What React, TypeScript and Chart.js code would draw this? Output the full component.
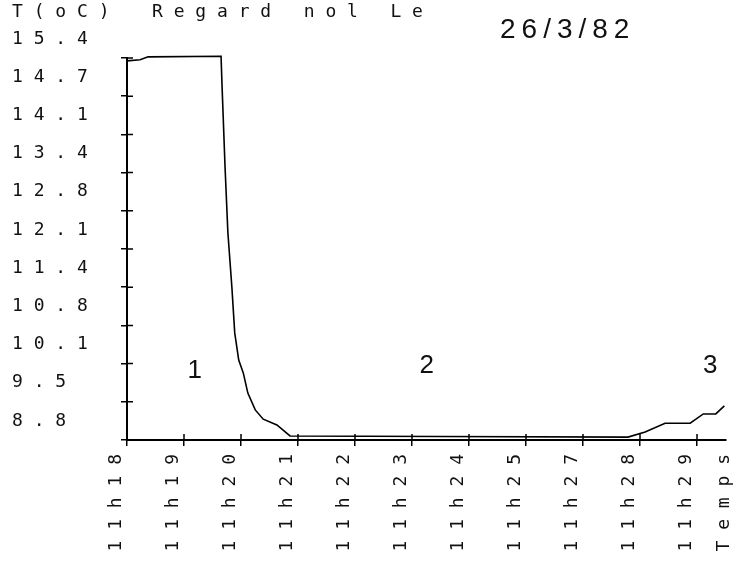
import React, { useEffect, useRef } from 'react';
import { Chart, registerables } from 'chart.js';

Chart.register(...registerables);

// ---- data ----
// x in "tick units": 0 = 11h18 tick, 10 = 11h29 tick
const timeX = [0, 0.23, 0.37, 1.65, 1.67, 1.72, 1.77, 1.84, 1.89, 1.96, 2.04, 2.12, 2.25, 2.39, 2.63, 2.86, 5.5, 8.79, 9.09, 9.26, 9.44, 9.88, 10.11, 10.33, 10.48];
const tempY = [15.35, 15.37, 15.42, 15.43, 14.85, 13.52, 12.38, 11.44, 10.65, 10.18, 9.96, 9.61, 9.32, 9.16, 9.06, 8.87, 8.86, 8.85, 8.94, 9.01, 9.09, 9.09, 9.25, 9.25, 9.39];

const xTickValues = [0, 1, 2, 3, 4, 5, 6, 7, 8, 9, 10];
const xTickLabels = ['11h18', '11h19', '11h20', '11h21', '11h22', '11h23', '11h24', '11h25', '11h27', '11h28', '11h29'];

const yTickValues = [8.8, 9.46, 10.12, 10.78, 11.44, 12.1, 12.76, 13.42, 14.08, 14.74, 15.4];
const yTickLabels = ['8.8', '9.5', '10.1', '10.8', '11.4', '12.1', '12.8', '13.4', '14.1', '14.7', '15.4'];

const phaseLabels = ['1', '2', '3'];
const phaseX = [1.19, 5.26, 10.23];
const phaseY = [9.99, 10.08, 10.08];

const yAxisTitle = 'T(oC)';
const chartTitle = 'Regard nol Le';
const chartDate = '26/3/82';
const xAxisTitle = 'Temps';

const MONO = '"DejaVu Sans Mono", "Liberation Mono", monospace';
const SANS = '"Liberation Sans", Arial, sans-serif';
const spaced = (s: string) => s.split('').join(' ');

const overlayPlugin = {
  id: 'overlay',
  afterDraw(chart: any) {
    const { ctx, chartArea, scales } = chart;
    const xs = scales.x;
    const ys = scales.y;
    ctx.save();
    // inner halves of the "+" tick marks
    ctx.strokeStyle = '#000';
    ctx.lineWidth = 1.5;
    ctx.beginPath();
    xs.ticks.forEach((_: any, i: number) => {
      const px = xs.getPixelForTick(i);
      ctx.moveTo(px, chartArea.bottom);
      ctx.lineTo(px, chartArea.bottom - 6);
    });
    ys.ticks.forEach((_: any, i: number) => {
      const py = ys.getPixelForTick(i);
      ctx.moveTo(chartArea.left, py);
      ctx.lineTo(chartArea.left + 6, py);
    });
    ctx.stroke();

    ctx.fillStyle = '#111';
    // header
    ctx.font = `18px ${MONO}`;
    ctx.textAlign = 'left';
    ctx.textBaseline = 'alphabetic';
    ctx.fillText(spaced(yAxisTitle), 12, 17);
    ctx.fillText(chartTitle.split(' ').map(spaced).join('   '), 152, 17);
    ctx.font = `28px ${SANS}`;
    try { (ctx as any).letterSpacing = '6px'; } catch (e) {}
    ctx.fillText(chartDate, 500, 38);
    try { (ctx as any).letterSpacing = '0px'; } catch (e) {}

    // phase annotations, placed through the scales
    ctx.font = `26px ${SANS}`;
    ctx.textAlign = 'center';
    ctx.textBaseline = 'middle';
    phaseLabels.forEach((t, i) => {
      ctx.fillText(t, xs.getPixelForValue(phaseX[i]), ys.getPixelForValue(phaseY[i]));
    });

    // x-axis title at the right end, rotated like the tick labels
    ctx.font = `18px ${MONO}`;
    ctx.translate(chartArea.right - 1, chartArea.bottom + 14);
    ctx.rotate(-Math.PI / 2);
    ctx.textAlign = 'right';
    ctx.textBaseline = 'middle';
    ctx.fillText(spaced(xAxisTitle), 0, 0);
    ctx.restore();
  },
};

export default function App() {
  const canvasRef = useRef<HTMLCanvasElement | null>(null);

  useEffect(() => {
    if (!canvasRef.current) return;
    const chart = new Chart(canvasRef.current, {
      type: 'line',
      data: {
        datasets: [
          {
            data: timeX.map((x, i) => ({ x, y: tempY[i] })),
            borderColor: '#000',
            borderWidth: 1.6,
            pointRadius: 0,
            tension: 0,
            fill: false,
            clip: false,
          },
        ],
      },
      options: {
        animation: false,
        responsive: true,
        maintainAspectRatio: false,
        layout: { padding: { left: 12, top: 58, right: 13.5, bottom: 0 } },
        plugins: { legend: { display: false }, tooltip: { enabled: false }, title: { display: false } },
        scales: {
          x: {
            type: 'linear',
            min: 0,
            max: 10.5,
            afterBuildTicks: (scale: any) => {
              scale.ticks = xTickValues.map((v) => ({ value: v }));
            },
            afterFit: (scale: any) => {
              scale.height = 126;
            },
            grid: { drawOnChartArea: false, drawTicks: true, tickLength: 6, color: '#000', lineWidth: 1.5 },
            border: { display: true, color: '#000', width: 2 },
            ticks: {
              autoSkip: false,
              minRotation: 90,
              maxRotation: 90,
              padding: 8,
              labelOffset: -11,
              color: '#111',
              font: { family: MONO, size: 18 },
              callback: (_v: any, i: number) => spaced(xTickLabels[i] ?? ''),
            },
          },
          y: {
            type: 'linear',
            min: 8.8,
            max: 15.4,
            afterBuildTicks: (scale: any) => {
              scale.ticks = yTickValues.map((v) => ({ value: v }));
            },
            afterFit: (scale: any) => {
              scale.width = 115;
            },
            grid: { drawOnChartArea: false, drawTicks: true, tickLength: 6, color: '#000', lineWidth: 1.5 },
            border: { display: true, color: '#000', width: 2 },
            ticks: {
              autoSkip: false,
              crossAlign: 'far',
              labelOffset: -19,
              color: '#111',
              font: { family: MONO, size: 18 },
              callback: (_v: any, i: number) => spaced(yTickLabels[i] ?? ''),
            },
          },
        },
      },
      plugins: [overlayPlugin],
    });
    return () => chart.destroy();
  }, []);

  return (
    <div style={{ position: 'fixed', left: 0, top: 0, width: 739, height: 566, background: '#fff' }}>
      <canvas ref={canvasRef} />
    </div>
  );
}
